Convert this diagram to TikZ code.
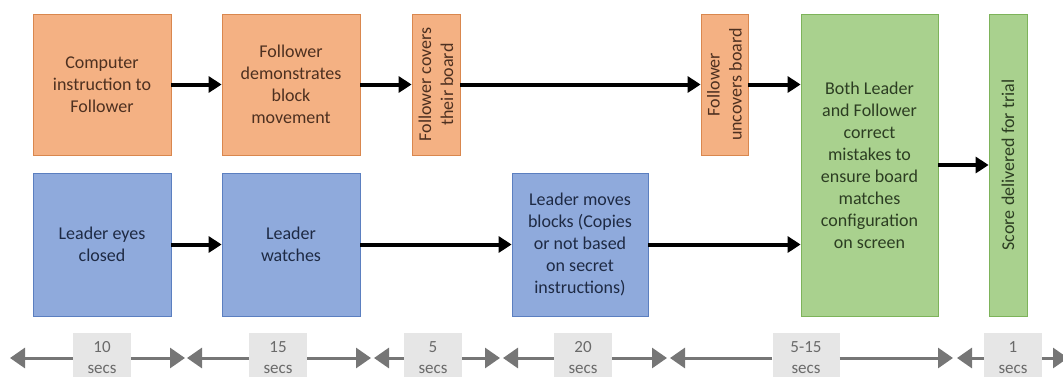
\documentclass[tikz,border=0pt]{standalone}
\usepackage{fontspec}
\setmainfont{Carlito}
\usetikzlibrary{arrows.meta}
\definecolor{ffill}{HTML}{F4B183}
\definecolor{fdraw}{HTML}{D9874E}
\definecolor{ftext}{HTML}{4D3020}
\definecolor{lfill}{HTML}{8FAADC}
\definecolor{ldraw}{HTML}{5B7FC0}
\definecolor{ltext}{HTML}{1E2A44}
\definecolor{gfill}{HTML}{A9D18E}
\definecolor{gdraw}{HTML}{7DB35A}
\definecolor{gtext}{HTML}{2C3D22}
\definecolor{tlgray}{HTML}{767676}
\definecolor{durfill}{HTML}{E6E6E6}
\definecolor{durtext}{HTML}{6A6A6A}
\begin{document}
\begin{tikzpicture}[x=1pt, y=-1pt,
    box/.style={draw, line width=0.8pt, inner sep=1pt, align=center,
      font=\fontsize{18}{22}\selectfont},
    follower/.style={box, fill=ffill, draw=fdraw, text=ftext},
    leader/.style={box, fill=lfill, draw=ldraw, text=ltext},
    both/.style={box, fill=gfill, draw=gdraw, text=gtext},
    flow/.style={-{Triangle[length=13pt,width=16pt]}, line width=4pt},
    tick/.style={-{Triangle[length=15pt,width=20pt]}, line width=3pt, draw=tlgray},
    dur/.style={fill=durfill, text=durtext, minimum width=58pt, minimum height=50pt,
      inner sep=0pt, align=center, font=\fontsize{17}{21}\selectfont}]
  \useasboundingbox (0,0) rectangle (1063,376);
  % follower row
  \node[follower, minimum width=138pt, minimum height=141pt] (A) at (102,84.5)
    {Computer\\instruction to\\Follower};
  \node[follower, minimum width=138pt, minimum height=141pt] (B) at (291,84.5)
    {Follower\\demonstrates\\block\\movement};
  \node[follower, rotate=90, minimum width=141pt, minimum height=48pt] (C) at (436,84.5)
    {Follower covers\\their board};
  \node[follower, rotate=90, minimum width=141pt, minimum height=47pt] (D) at (724.5,84.5)
    {Follower\\uncovers board};
  % leader row
  \node[leader, minimum width=138pt, minimum height=143pt] (L1) at (102,244.5)
    {Leader eyes\\closed};
  \node[leader, minimum width=138pt, minimum height=143pt] (L2) at (291,244.5)
    {Leader\\watches};
  \node[leader, minimum width=136pt, minimum height=143pt] (L3) at (580,244.5)
    {Leader moves\\blocks (Copies\\or not based\\on secret\\instructions)};
  % both
  \node[both, minimum width=137pt, minimum height=302pt] (G) at (869.5,165)
    {Both Leader\\and Follower\\correct\\mistakes to\\ensure board\\matches\\configuration\\on screen};
  \node[both, rotate=90, minimum width=302pt, minimum height=38pt] (S) at (1008,165)
    {Score delivered for trial};
  \draw[flow] (A) -- (B);
  \draw[flow] (B) -- (C);
  \draw[flow] (C) -- (D);
  \draw[flow] (D) -- (D -| G.west);
  \draw[flow] (L1) -- (L2);
  \draw[flow] (L2) -- (L3);
  \draw[flow] (L3) -- (L3 -| G.west);
  \draw[flow] (G) -- (S);
  % timeline
  \coordinate (t0) at (10,358);
  \coordinate (t1) at (185,358);
  \coordinate (t1b) at (187,358);
  \coordinate (t2) at (371,358);
  \coordinate (t2b) at (374,358);
  \coordinate (t3) at (500,358);
  \coordinate (t3b) at (503,358);
  \coordinate (t4) at (667,358);
  \coordinate (t4b) at (670,358);
  \coordinate (t5) at (953,358);
  \coordinate (t5b) at (957,358);
  \coordinate (t6) at (1068,358);
  \node[dur] (d10) at (102,358) {10\\secs};
  \node[dur] (d15) at (278,358) {15\\secs};
  \node[dur] (d5) at (433,358) {5\\secs};
  \node[dur] (d20) at (583,358) {20\\secs};
  \node[dur, minimum width=67pt] (d515) at (806,358) {5-15\\secs};
  \node[dur] (d1) at (1013,358) {1\\secs};
  \draw[tick] (d10) -- (t0);
  \draw[tick] (d10) -- (t1);
  \draw[tick] (d15) -- (t1b);
  \draw[tick] (d15) -- (t2);
  \draw[tick] (d5) -- (t2b);
  \draw[tick] (d5) -- (t3);
  \draw[tick] (d20) -- (t3b);
  \draw[tick] (d20) -- (t4);
  \draw[tick] (d515) -- (t4b);
  \draw[tick] (d515) -- (t5);
  \draw[tick] (d1) -- (t5b);
  \draw[tick] (d1) -- (t6);
\end{tikzpicture}
\end{document}
